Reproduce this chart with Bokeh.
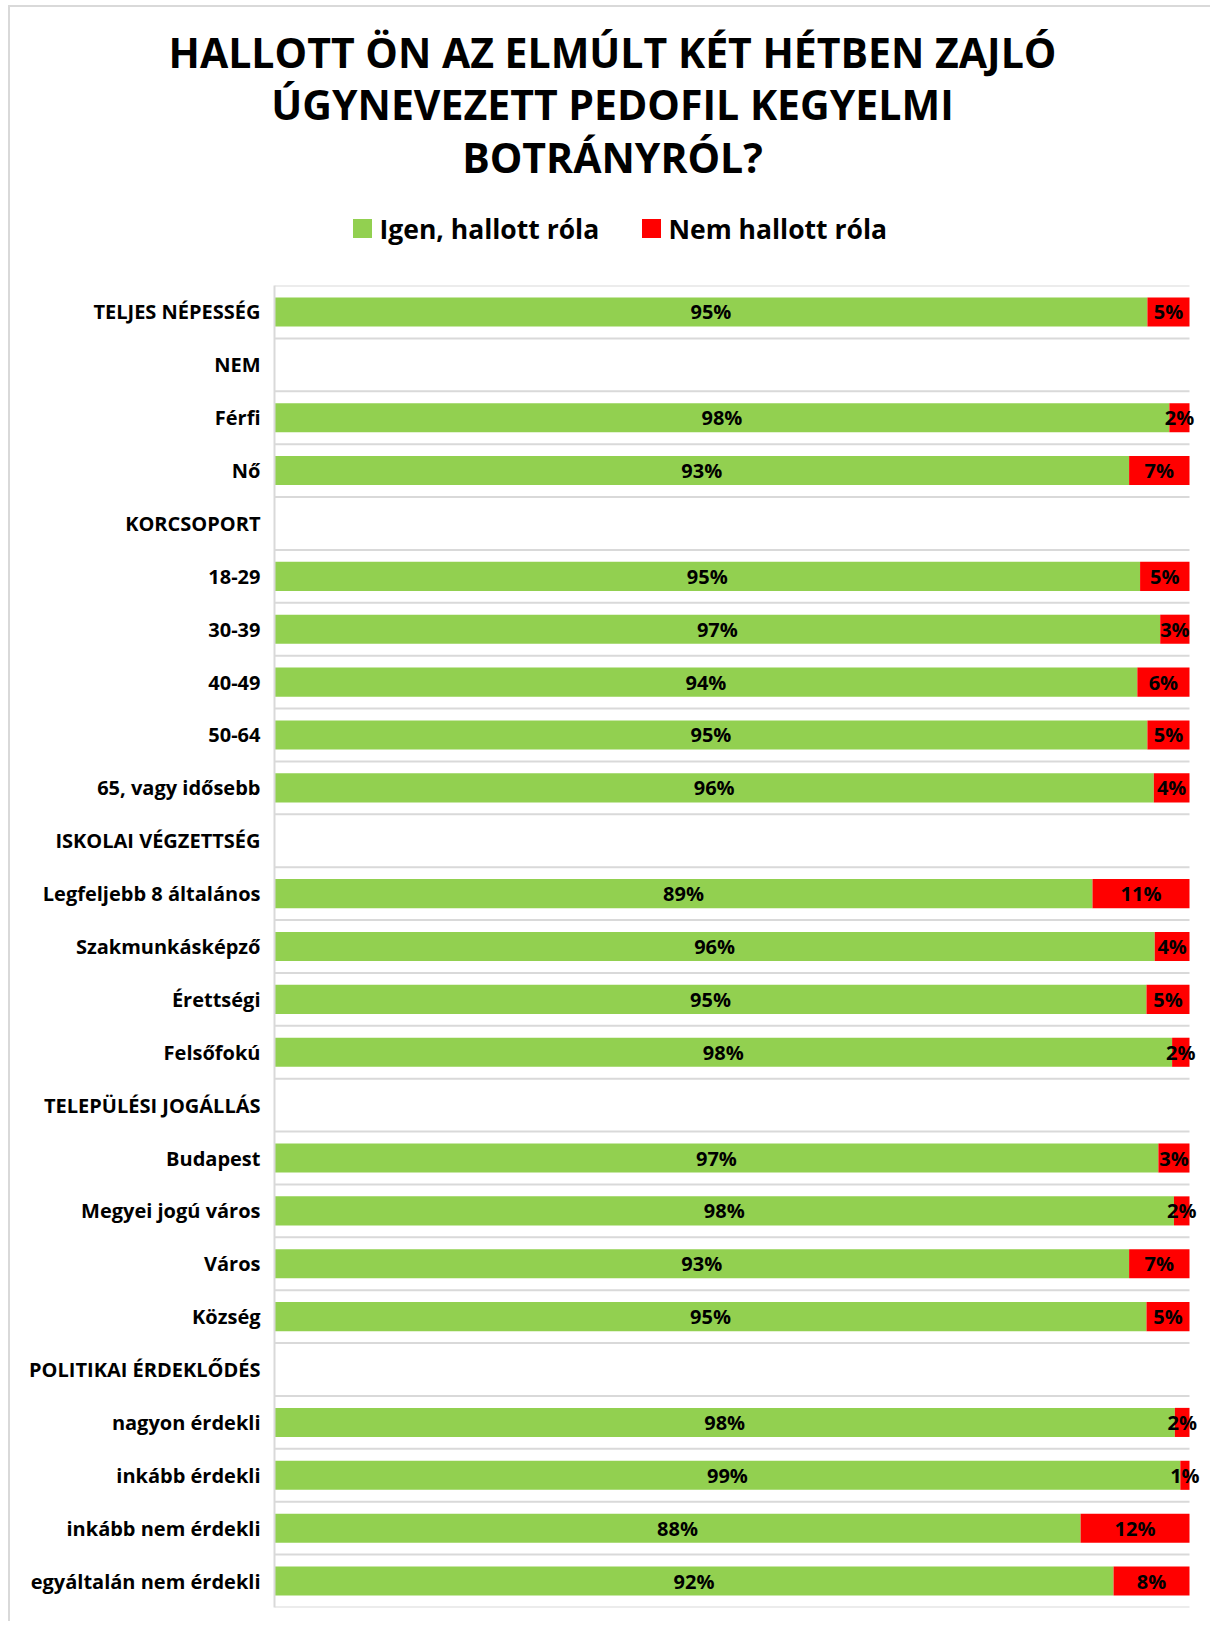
from bokeh.plotting import figure
from bokeh.layouts import column
from bokeh.models import (Range1d, FixedTicker, ColumnDataSource, LabelSet)
from bokeh.core.properties import value
from bokeh.embed import file_html
from bokeh.resources import INLINE

title_lines = ["HALLOTT ÖN AZ ELMÚLT KÉT HÉTBEN ZAJLÓ",
               "ÚGYNEVEZETT PEDOFIL KEGYELMI",
               "BOTRÁNYRÓL?"]
series_names = ["Igen, hallott róla", "Nem hallott róla"]
categories = ["TELJES NÉPESSÉG", "NEM", "Férfi", "Nő", "KORCSOPORT",
              "18-29", "30-39", "40-49", "50-64", "65, vagy idősebb",
              "ISKOLAI VÉGZETTSÉG", "Legfeljebb 8 általános", "Szakmunkásképző",
              "Érettségi", "Felsőfokú", "TELEPÜLÉSI JOGÁLLÁS", "Budapest",
              "Megyei jogú város", "Város", "Község", "POLITIKAI ÉRDEKLŐDÉS",
              "nagyon érdekli", "inkább érdekli", "inkább nem érdekli",
              "egyáltalán nem érdekli"]
heard = [95.4, None, 97.8, 93.4, None, 94.6, 96.8, 94.3, 95.4, 96.1, None,
         89.4, 96.2, 95.3, 98.1, None, 96.6, 98.3, 93.4, 95.3, None,
         98.4, 99.0, 88.1, 91.7]
not_heard = [4.6, None, 2.2, 6.6, None, 5.4, 3.2, 5.7, 4.6, 3.9, None,
             10.6, 3.8, 4.7, 1.9, None, 3.4, 1.7, 6.6, 4.7, None,
             1.6, 1.0, 11.9, 8.3]

GREEN = "#92d050"
RED = "#ff0000"
GRID = "#d9d9d9"
FONT = "Open Sans"
W = 1200
LEFT = 264
PLOT_W = 915          # pixel width of 0..100 %
TOP_H = 276
BOT_H = 1338


def no_align(fig):
    try:
        fig.frame_align = False
    except Exception:
        pass


# ---------------- header (title + legend) ----------------
ptop = figure(width=W, height=TOP_H, x_range=Range1d(0, W),
              y_range=Range1d(TOP_H, 0), output_backend="svg",
              toolbar_location=None, x_axis_location=None,
              y_axis_location=None, min_border=0, title=None)
no_align(ptop)
ptop.grid.visible = False
ptop.outline_line_color = None

title_src = ColumnDataSource(dict(x=[602] * 3, y=[44, 96, 149], t=title_lines))
ptop.text(x="x", y="y", text="t", source=title_src, text_align="center",
          text_baseline="middle", text_font=value(FONT),
          text_font_style="bold", text_font_size="41px", text_color="black")

leg_src = ColumnDataSource(dict(sx=[352, 641], tx=[369, 658], y=[221, 221],
                                c=[GREEN, RED], t=series_names))
ptop.rect(x="sx", y="y", width=19, height=19, fill_color="c", line_color=None,
          source=leg_src)
ptop.text(x="tx", y="y", text="t", source=leg_src, text_align="left",
          text_baseline="middle", text_font=value(FONT),
          text_font_style="bold", text_font_size="26.5px", text_color="black")

# ---------------- bar chart ----------------
n = len(categories)
idx = [i for i, v in enumerate(heard) if v is not None]
g = [heard[i] for i in idx]
r = [not_heard[i] for i in idx]
src = ColumnDataSource(dict(
    y=[i + 0.5 for i in idx],
    g=g, r=r,
    rend=[a + b for a, b in zip(g, r)],
    gmid=[a / 2 for a in g],
    rmid=[a + b / 2 for a, b in zip(g, r)],
    glab=[f"{round(a)}%" for a in g],
    rlab=[f"{round(b)}%" for b in r],
))

x_end = 100 * (W - LEFT) / PLOT_W
p = figure(width=W, height=BOT_H, x_range=Range1d(0, x_end),
           y_range=Range1d(n, 0), output_backend="svg", toolbar_location=None,
           min_border_left=LEFT, min_border_right=0, min_border_bottom=14,
           min_border_top=2, title=None)
no_align(p)
p.outline_line_color = None

# horizontal separators between the rows, spanning the 0..100 % scale
bounds = list(range(n + 1))
p.segment(x0=[0] * len(bounds), x1=[100] * len(bounds), y0=bounds, y1=bounds,
          line_color=GRID, line_width=2)

p.hbar(y="y", left=0, right="g", height=0.55, fill_color=GREEN,
       line_color=None, source=src, legend_label=series_names[0])
p.hbar(y="y", left="g", right="rend", height=0.55, fill_color=RED,
       line_color=None, source=src, legend_label=series_names[1])
p.legend.visible = False

for xcol, tcol in (("gmid", "glab"), ("rmid", "rlab")):
    p.add_layout(LabelSet(x=xcol, y="y", text=tcol, source=src,
                          text_align="center", text_baseline="middle",
                          text_font=value(FONT), text_font_style="bold",
                          text_font_size="20px", text_color="black"))

p.xaxis.visible = False
p.grid.visible = False

ya = p.yaxis[0]
ya.ticker = FixedTicker(ticks=[i + 0.5 for i in range(n)])
ya.major_label_overrides = {i + 0.5: c for i, c in enumerate(categories)}
ya.major_tick_line_color = None
ya.minor_tick_line_color = None
ya.major_tick_out = 0
ya.major_tick_in = 0
ya.axis_line_color = GRID
ya.axis_line_width = 2
ya.major_label_standoff = 14
ya.major_label_text_font = FONT
ya.major_label_text_font_style = "bold"
ya.major_label_text_font_size = "20px"
ya.major_label_text_color = "black"

layout = column(ptop, p, spacing=0,
                styles={"margin-left": "8px", "margin-top": "5px",
                        "border-left": "2px solid #d9d9d9",
                        "border-top": "2px solid #d9d9d9"})

open("out.html", "w").write(file_html(layout, INLINE))
